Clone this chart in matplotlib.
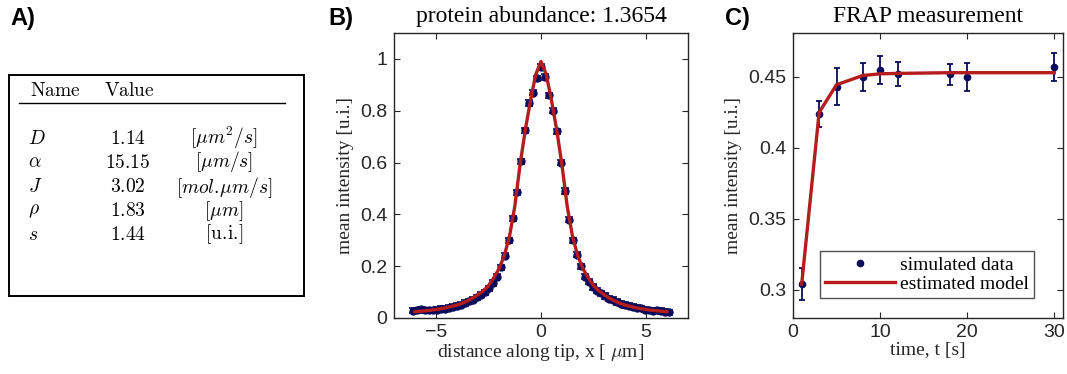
import matplotlib
matplotlib.use("Agg")
import matplotlib.pyplot as plt
from matplotlib.lines import Line2D

plt.rcParams['mathtext.fontset'] = 'cm'
SERIF = 'Liberation Serif'
SANS = 'Liberation Sans'
TXT = '#262626'
NAVY = '#0b0b5c'
RED = '#b51c1c'

# ---------------- data ----------------
param_names = [r'$D$', r'$\alpha$', r'$J$', r'$\rho$', r'$s$']
param_values = ['1.14', '15.15', '3.02', '1.83', '1.44']
param_units = [r'$[\mu m^2/s]$', r'$[\mu m/s]$', r'$[mol.\!\mu m/s]$', r'$[\mu m]$',
               r'$[\mathrm{u.\!i.\!}]$']

# panel B: profile data
prof_x = [-6.08, -5.89, -5.70, -5.51, -5.32, -5.13, -4.94, -4.75, -4.56, -4.37, -4.18,
          -3.99, -3.80, -3.61, -3.42, -3.23, -3.04, -2.85, -2.66, -2.47, -2.28, -2.09,
          -1.90, -1.71, -1.52, -1.33, -1.14, -0.95, -0.76, -0.57, -0.38, -0.19, 0.00,
          0.19, 0.38, 0.57, 0.76, 0.95, 1.14, 1.33, 1.52, 1.71, 1.90, 2.09,
          2.28, 2.47, 2.66, 2.85, 3.04, 3.23, 3.42, 3.61, 3.80, 3.99, 4.18,
          4.37, 4.56, 4.75, 4.94, 5.13, 5.32, 5.51, 5.70, 5.89, 6.08]
prof_y = [0.028, 0.030, 0.033, 0.030, 0.029, 0.030, 0.032, 0.035, 0.036, 0.040, 0.043,
          0.047, 0.052, 0.058, 0.065, 0.070, 0.080, 0.090, 0.100, 0.115, 0.135, 0.160,
          0.195, 0.240, 0.300, 0.385, 0.485, 0.605, 0.725, 0.830, 0.870, 0.925, 0.970,
          0.930, 0.860, 0.800, 0.720, 0.600, 0.490, 0.380, 0.300, 0.245, 0.200, 0.160,
          0.140, 0.120, 0.105, 0.095, 0.085, 0.075, 0.070, 0.062, 0.055, 0.050, 0.048,
          0.043, 0.040, 0.037, 0.032, 0.030, 0.028, 0.030, 0.027, 0.024, 0.022]
prof_err = [0.010] * len(prof_x)

# panel B: model curve
model_x = [-6.0, -5.75, -5.5, -5.25, -5.0, -4.75, -4.5, -4.25, -4.0, -3.75, -3.5, -3.25,
           -3.0, -2.75, -2.5, -2.25, -2.0, -1.75, -1.5, -1.25, -1.0, -0.75, -0.5, -0.25,
           0.0, 0.25, 0.5, 0.75, 1.0, 1.25, 1.5, 1.75, 2.0, 2.25, 2.5, 2.75, 3.0, 3.25,
           3.5, 3.75, 4.0, 4.25, 4.5, 4.75, 5.0, 5.25, 5.5, 5.75, 6.0]
model_y = [0.024, 0.026, 0.028, 0.030, 0.033, 0.036, 0.040, 0.045, 0.050, 0.057, 0.066, 0.077,
           0.090, 0.105, 0.125, 0.155, 0.190, 0.240, 0.315, 0.430, 0.590, 0.725, 0.840, 0.940,
           0.990, 0.940, 0.840, 0.725, 0.590, 0.430, 0.315, 0.240, 0.190, 0.155, 0.125, 0.105,
           0.090, 0.077, 0.066, 0.057, 0.050, 0.045, 0.040, 0.036, 0.033, 0.030, 0.028, 0.026,
           0.024]

# panel C: FRAP
frap_t = [1, 3, 5, 8, 10, 12, 18, 20, 30]
frap_y = [0.304, 0.424, 0.443, 0.450, 0.455, 0.452, 0.452, 0.450, 0.457]
frap_err = [0.011, 0.009, 0.013, 0.0097, 0.010, 0.0086, 0.0074, 0.0097, 0.0096]
frap_model = [0.304, 0.425, 0.4445, 0.451, 0.4522, 0.4525, 0.453, 0.453, 0.453]

# ---------------- figure ----------------
W, H = 1067, 374
fig = plt.figure(figsize=(W / 100, H / 100), dpi=100)

def box(x0, y0, x1, y1):
    return [x0 / W, 1 - y1 / H, (x1 - x0) / W, (y1 - y0) / H]

def style_axes(ax):
    for s in ax.spines.values():
        s.set_color(TXT)
        s.set_linewidth(1.0)
    ax.tick_params(direction='in', top=True, right=True, length=4, width=0.8,
                   colors=TXT, labelsize=14)
    ax.tick_params(axis='x', pad=4)
    ax.tick_params(axis='y', pad=5)
    for lab in ax.get_xticklabels() + ax.get_yticklabels():
        lab.set_fontfamily(SANS)

LABEL_FS = 14
TITLE_FS = 17

# Panel A: table
axA = fig.add_axes(box(9, 75, 304, 296))
axA.set_xlim(9, 304)
axA.set_ylim(296, 75)
axA.set_xticks([])
axA.set_yticks([])
for s in axA.spines.values():
    s.set_linewidth(1.4)
    s.set_color('black')
fs_tab = 14
axA.text(30, 90, r'$\mathrm{Name}$', fontsize=fs_tab, ha='left', va='center')
axA.text(104, 90, r'$\mathrm{Value}$', fontsize=fs_tab, ha='left', va='center')
axA.plot([19, 285], [103, 103], color='black', lw=1.0)
rows_y = [138, 162, 187, 211, 234]
for yy, nm, vv, uu in zip(rows_y, param_names, param_values, param_units):
    axA.text(28, yy, nm, fontsize=fs_tab, ha='left', va='center')
    axA.text(128, yy, r'$' + vv + r'$', fontsize=fs_tab, ha='center', va='center')
    axA.text(224, yy, uu, fontsize=fs_tab, ha='center', va='center')

# Panel B
axB = fig.add_axes(box(394, 33, 688, 318))
axB.errorbar(prof_x, prof_y, yerr=prof_err, fmt='o', color=NAVY, ms=5,
             capsize=3, elinewidth=1.2, capthick=1.2, zorder=2)
axB.plot(model_x, model_y, color=RED, lw=2.4, zorder=3)
axB.set_xlim(-7, 7)
axB.set_ylim(0, 1.1)
axB.set_xticks([-5, 0, 5])
axB.set_yticks([0, 0.2, 0.4, 0.6, 0.8, 1])
axB.set_yticklabels(['0', '0.2', '0.4', '0.6', '0.8', '1'])
style_axes(axB)
axB.set_title('protein abundance: 1.3654', fontfamily=SERIF, fontsize=TITLE_FS, color='black', pad=8)
axB.set_xlabel(r'distance along tip, x [ $\mu$m]', fontfamily=SERIF, fontsize=LABEL_FS, color=TXT, labelpad=1)
axB.set_ylabel('mean intensity [u.i.]', fontfamily=SERIF, fontsize=LABEL_FS, color=TXT, labelpad=4)

# Panel C
axC = fig.add_axes(box(793, 33, 1063, 318))
axC.errorbar(frap_t, frap_y, yerr=frap_err, fmt='o', color=NAVY, ms=4.5,
             capsize=2.5, elinewidth=1.3, capthick=1.3, zorder=2)
axC.plot(frap_t, frap_model, color=RED, lw=2.4, zorder=3)
axC.set_xlim(0, 31)
axC.set_ylim(0.28, 0.481)
axC.set_xticks([0, 10, 20, 30])
axC.set_yticks([0.3, 0.35, 0.4, 0.45])
axC.set_yticklabels(['0.3', '0.35', '0.4', '0.45'])
style_axes(axC)
axC.set_title('FRAP measurement', fontfamily=SERIF, fontsize=TITLE_FS, color='black', pad=8)
axC.set_xlabel('time, t [s]', fontfamily=SERIF, fontsize=LABEL_FS, color=TXT, labelpad=1)
axC.set_ylabel('mean intensity [u.i.]', fontfamily=SERIF, fontsize=LABEL_FS, color=TXT, labelpad=4)
h1 = Line2D([], [], marker='o', color=NAVY, ms=4.5, ls='none')
h2 = Line2D([], [], color=RED, lw=2.4)
leg = axC.legend([h1, h2], ['simulated data', 'estimated model'], loc='lower right',
                 bbox_to_anchor=(0.893, 0.07), frameon=True, fancybox=False,
                 prop={'family': SERIF, 'size': LABEL_FS}, handlelength=3.6,
                 borderpad=0.25, labelspacing=0.1, handletextpad=0.3, borderaxespad=0)
leg.get_frame().set_edgecolor(TXT)
leg.get_frame().set_linewidth(1.0)

# panel labels
for xx, lab in [(10, 'A)'), (328, 'B)'), (725, 'C)')]:
    fig.text(xx / W, 1 - 18 / H, lab, fontfamily=SANS, fontweight='bold', fontsize=17,
             va='center', ha='left')

fig.savefig('out.png', dpi=100)
